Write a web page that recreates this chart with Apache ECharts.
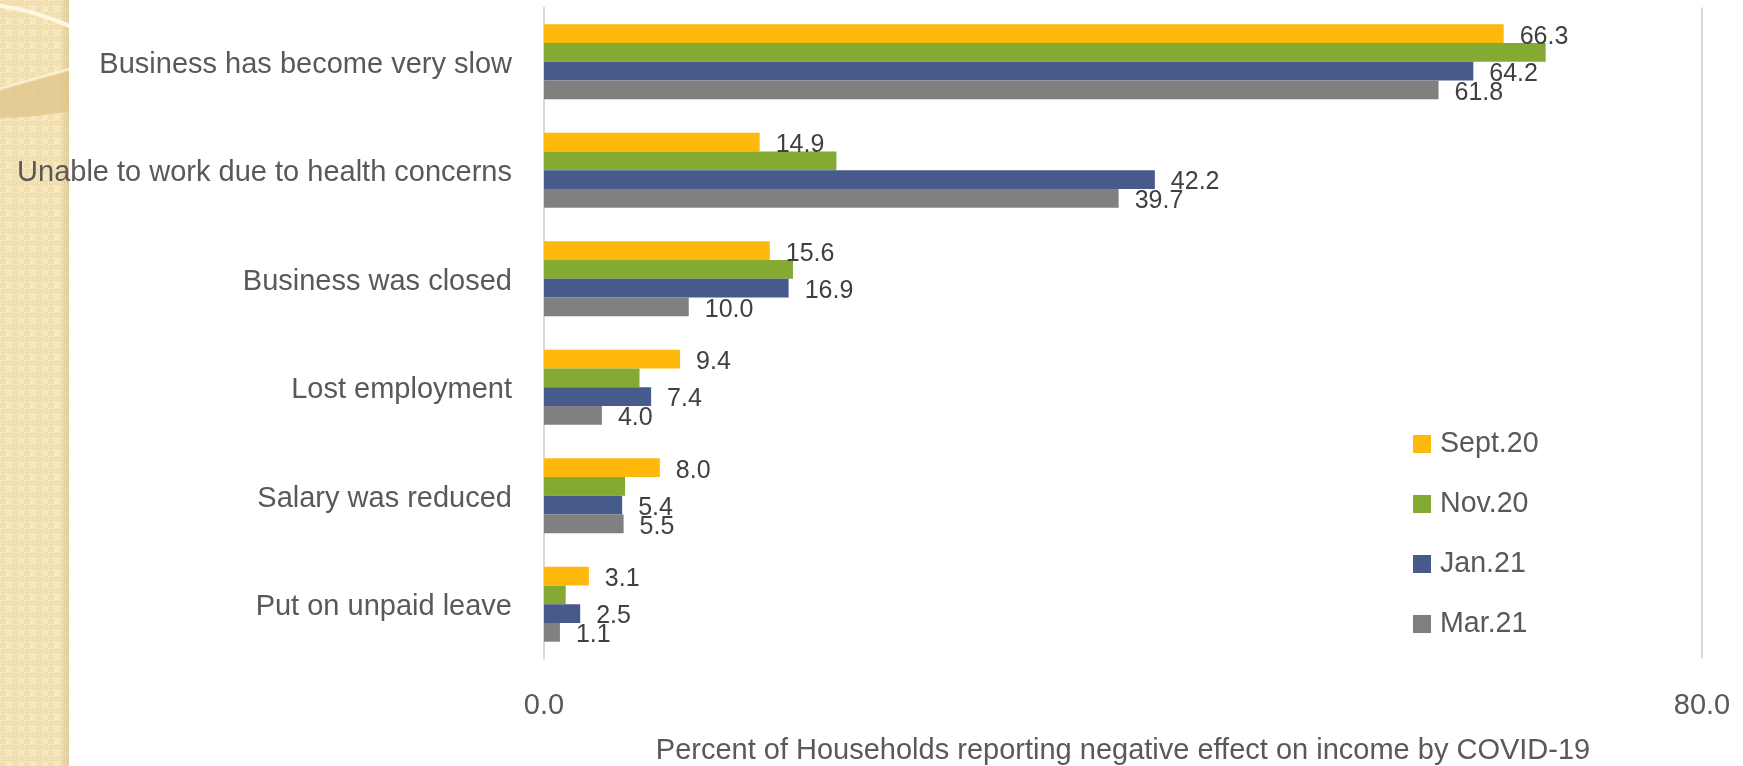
<!DOCTYPE html>
<html>
<head>
<meta charset="utf-8">
<script src="https://cdn.jsdelivr.net/npm/echarts@6/dist/echarts.min.js"></script>
<style>
  html, body { margin: 0; padding: 0; background: #ffffff; }
  #chart { width: 1743px; height: 766px; }
</style>
</head>
<body>
<div id="chart"></div>
<script>
// Reasons households gave for a negative effect on income, by survey round
const categories = [
  'Business has become very slow',
  'Unable to work due to health concerns',
  'Business was closed',
  'Lost employment',
  'Salary was reduced',
  'Put on unpaid leave'
];
const seriesNames = ['Sept.20', 'Nov.20', 'Jan.21', 'Mar.21'];
const sept20 = [66.3, 14.9, 15.6, 9.4, 8.0, 3.1];
const nov20 = [69.2, 20.2, 17.2, 6.6, 5.6, 1.5];
const jan21 = [64.2, 42.2, 16.9, 7.4, 5.4, 2.5];
const mar21 = [61.8, 39.7, 10.0, 4.0, 5.5, 1.1];
const showValueLabels = [true, false, true, true];
const xMin = 0;
const xMax = 80;
const xInterval = 80;
const xTitle = 'Percent of Households reporting negative effect on income by COVID-19';

const colors = ['#FFB80C', '#84AA34', '#475A8C', '#808080'];
const FONT = '"Liberation Sans", Arial, sans-serif';

// Decorative textured strip along the left edge of the slide
function makeStrip(w, h) {
  const c = document.createElement('canvas');
  c.width = w; c.height = h;
  const ctx = c.getContext('2d');
  const tile = document.createElement('canvas');
  tile.width = 12; tile.height = 12;
  const t = tile.getContext('2d');
  t.fillStyle = '#f2dfae'; t.fillRect(0, 0, 12, 12);
  t.fillStyle = '#f7e8c1'; t.fillRect(0, 0, 6, 6); t.fillRect(6, 6, 6, 6);
  t.strokeStyle = '#e6d3a3'; t.lineWidth = 1;
  t.strokeRect(1.5, 1.5, 3, 3);
  ctx.fillStyle = ctx.createPattern(tile, 'repeat');
  ctx.fillRect(0, 0, w, h);
  // shaded right edge
  const g = ctx.createLinearGradient(w - 8, 0, w, 0);
  g.addColorStop(0, 'rgba(200,175,120,0)');
  g.addColorStop(1, 'rgba(200,175,120,0.45)');
  ctx.fillStyle = g;
  ctx.fillRect(w - 8, 0, 8, h);
  // swirl: pale highlight line and tan band
  ctx.strokeStyle = '#fff8e2';
  ctx.lineWidth = 4;
  ctx.beginPath();
  ctx.moveTo(-5, 5);
  ctx.quadraticCurveTo(35, 10, w + 5, 28);
  ctx.stroke();
  ctx.fillStyle = 'rgba(222,196,135,0.75)';
  ctx.beginPath();
  ctx.moveTo(-5, 92);
  ctx.quadraticCurveTo(35, 80, w + 5, 70);
  ctx.lineTo(w + 5, 110);
  ctx.quadraticCurveTo(35, 118, -5, 118);
  ctx.closePath();
  ctx.fill();
  ctx.strokeStyle = '#fbf1d6';
  ctx.lineWidth = 2;
  ctx.beginPath();
  ctx.moveTo(-5, 90);
  ctx.quadraticCurveTo(35, 78, w + 5, 68);
  ctx.stroke();
  return c;
}

const chart = echarts.init(document.getElementById('chart'), null, { renderer: 'canvas' });

const seriesData = [sept20, nov20, jan21, mar21];
const series = seriesData.map((vals, i) => ({
  name: seriesNames[i],
  type: 'bar',
  data: vals,
  barGap: '0%',
  barCategoryGap: '31%',
  itemStyle: { color: colors[i] },
  label: {
    show: showValueLabels[i],
    position: 'right',
    distance: 16,
    offset: [0, 3],
    fontFamily: FONT,
    fontSize: 25,
    color: '#404040',
    formatter: p => Number(p.value).toFixed(1)
  }
}));

chart.setOption({
  animation: false,
  backgroundColor: '#ffffff',
  color: colors,
  graphic: [{
    type: 'image',
    left: 0,
    top: 0,
    z: -100,
    silent: true,
    style: { image: makeStrip(69, 766), width: 69, height: 766 }
  }],
  legend: {
    data: seriesNames,
    orient: 'vertical',
    left: 1413,
    top: 429,
    padding: 0,
    icon: 'rect',
    itemWidth: 18,
    itemHeight: 18,
    itemGap: 30,
    textStyle: {
      fontFamily: FONT,
      fontSize: 28.6,
      color: '#595959',
      lineHeight: 30,
      padding: [0, 0, 0, 4]
    }
  },
  grid: {
    left: 544,
    right: 41,
    top: 7.5,
    bottom: 107.5,
    containLabel: false,
    outerBoundsMode: 'none'
  },
  xAxis: {
    type: 'value',
    min: xMin,
    max: xMax,
    interval: xInterval,
    name: xTitle,
    nameLocation: 'middle',
    nameGap: 78,
    nameTextStyle: { fontFamily: FONT, fontSize: 29, color: '#595959' },
    axisLine: { show: false },
    axisTick: { show: false },
    axisLabel: {
      fontFamily: FONT,
      fontSize: 29,
      color: '#595959',
      margin: 33,
      formatter: v => v.toFixed(1)
    },
    splitLine: { show: true, lineStyle: { color: '#d9d9d9', width: 2 } }
  },
  yAxis: {
    type: 'category',
    inverse: true,
    data: categories,
    axisLine: { show: true, lineStyle: { color: '#d9d9d9', width: 2 } },
    axisTick: { show: false },
    axisLabel: {
      margin: 32,
      formatter: v => '{c|' + v + '}',
      rich: {
        c: {
          fontFamily: FONT,
          fontSize: 29,
          color: '#595959',
          padding: [6, 0, 0, 0]
        }
      }
    }
  },
  series: series
});
</script>
</body>
</html>
